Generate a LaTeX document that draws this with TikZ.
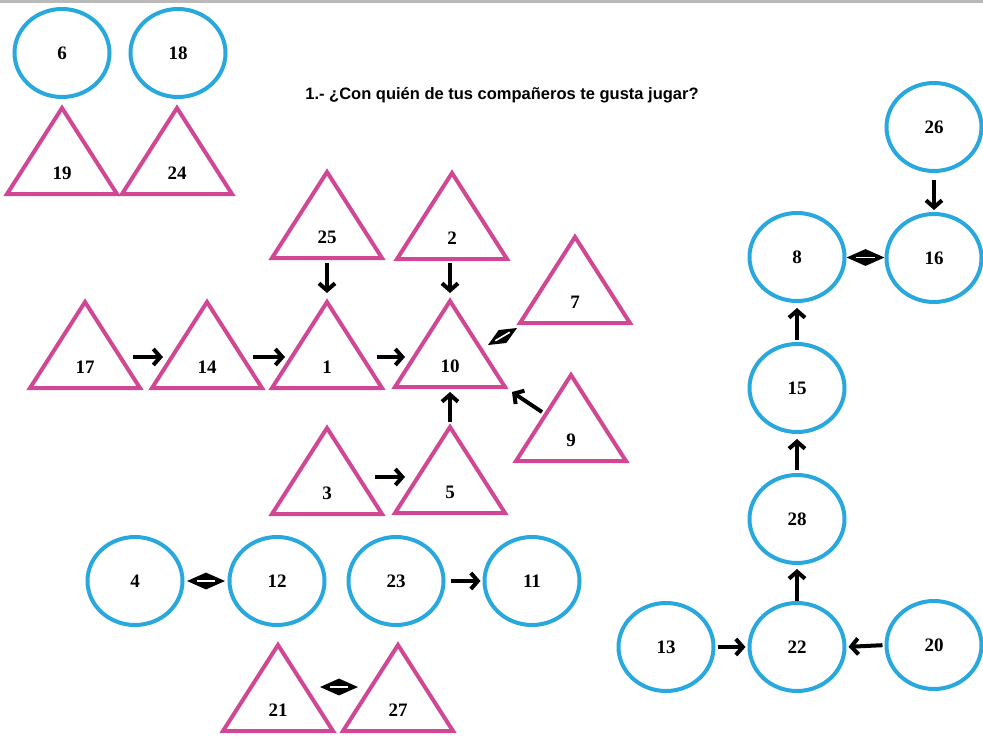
\documentclass[tikz,border=0pt]{standalone}
\usepackage{fontspec}
\setmainfont{Liberation Serif}
\newfontfamily\titlefont{Liberation Sans}
\usetikzlibrary{shapes.geometric,arrows.meta,calc}
\definecolor{cblue}{RGB}{41,168,222}
\definecolor{tpink}{RGB}{208,72,148}
\begin{document}
\begin{tikzpicture}[x=1pt,y=-1pt,
  circ/.style={ellipse, draw=cblue, line width=4pt, minimum width=95pt, minimum height=88pt,
    inner sep=0pt, outer sep=0pt, font=\fontsize{19}{22}\selectfont\bfseries},
  tribox/.style={rectangle, minimum width=110pt, minimum height=86pt, inner sep=0pt, outer sep=0pt},
  tristroke/.style={draw=tpink, line width=4pt},
  num/.style={inner sep=0pt, font=\fontsize{19}{22}\selectfont\bfseries},
  arr/.style={draw=black, line width=4pt, -{Straight Barb[length=7pt,width=16pt,line width=4pt]}},
  diam/.style={diamond, fill=black, minimum width=38pt, minimum height=17pt, inner sep=0pt,
    path picture={\draw[white, line width=1.6pt]
      ($(path picture bounding box.west)!0.25!(path picture bounding box.east)$) --
      ($(path picture bounding box.west)!0.75!(path picture bounding box.east)$);}},
  diamline/.style={draw=white, line width=1.6pt}
]
\useasboundingbox (0,0) rectangle (983,753);
\fill[gray!55] (0,0) rectangle (983,3);

\node[font=\titlefont\bfseries\fontsize{16.5}{19}\selectfont, anchor=base, inner sep=0pt] (title)
  at (502,99) {1.- ¿Con quién de tus compañeros te gusta jugar?};

% triangles
\foreach \n/\x/\y in {19/62/151, 24/177/151, 25/327/215, 2/452/216, 7/575/280,
  17/85/345, 14/207/345, 1/327/345, 10/450/344, 9/571/418, 3/327/471, 5/450/470,
  21/278/688, 27/398/688}{
  \node[tribox] (t\n) at (\x,\y) {};
  \draw[tristroke] (t\n.north) -- (t\n.south west) -- (t\n.south east) -- cycle;
  \node[num] (l\n) at (\x,\y+22) {\n};
}

% circles
\foreach \n/\x/\y in {6/62/53, 18/178/53, 26/934/127, 8/797/257, 16/934/258,
  15/797/388, 28/797/519, 22/797/647, 13/666/647, 20/934/645,
  4/135/581, 12/277/581, 23/396/581, 11/532/581}{
  \node[circ] (c\n) at (\x,\y) {\n};
}

% arrows among triangles
\draw[arr] ([shift={(48,12)}]t17.center) -- ([shift={(-44,12)}]t14.center);
\draw[arr] ([shift={(46,12)}]t14.center) -- ([shift={(-42,12)}]t1.center);
\draw[arr] ([shift={(50,12)}]t1.center) -- ([shift={(-45,13)}]t10.center);
\draw[arr] ([shift={(0,48)}]t25.center) -- ([shift={(0,-52)}]t1.center);
\draw[arr] ([shift={(-2,47)}]t2.center) -- ([shift={(0,-51)}]t10.center);
\draw[arr] ([shift={(-29,-6)}]t9.center) -- ([shift={(62,48)}]t10.center);
\draw[arr] ([shift={(0,-48)}]t5.center) -- ([shift={(0,48)}]t10.center);
\draw[arr] ([shift={(48,6)}]t3.center) -- ([shift={(-45,7)}]t5.center);

% two-way link 10 <-> 7 (slanted diamond)
\coordinate (dA) at ([shift={(38,1)}]t10.center);
\coordinate (dB) at ([shift={(-58,48)}]t7.center);
\fill[black] (dA) -- ($(dA)!0.5!(dB)!7.5pt!90:(dB)$) -- (dB)
  -- ($(dA)!0.5!(dB)!7.5pt!-90:(dB)$) -- cycle;
\draw[diamline] ($(dA)!0.25!(dB)$) -- ($(dA)!0.75!(dB)$);

\path ([shift={(42,-1)}]t21.center) -- ([shift={(-40,-1)}]t27.center)
  node[midway, diam] (d21) {};

% arrows among circles
\draw[arr, shorten <=9pt, shorten >=4pt] (c26.south) -- (c16.north);
\path (c8.east) -- (c16.west) node[midway, diam] (d8) {};
\draw[arr, shorten <=4pt, shorten >=7pt] (c15.north) -- (c8.south);
\draw[arr, shorten <=5pt, shorten >=7pt] (c28.north) -- (c15.south);
\draw[arr, shorten <=2pt, shorten >=6pt] (c22.north) -- (c28.south);
\draw[arr, shorten <=4pt, shorten >=4pt] (c13.east) -- (c22.west);
\draw[arr, shorten <=4pt, shorten >=4pt] (c20.west) -- (c22.east);
\path (c4.east) -- (c12.west) node[midway, diam] (d4) {};
\draw[arr, shorten <=7pt, shorten >=4pt] (c23.east) -- (c11.west);
\end{tikzpicture}
\end{document}
